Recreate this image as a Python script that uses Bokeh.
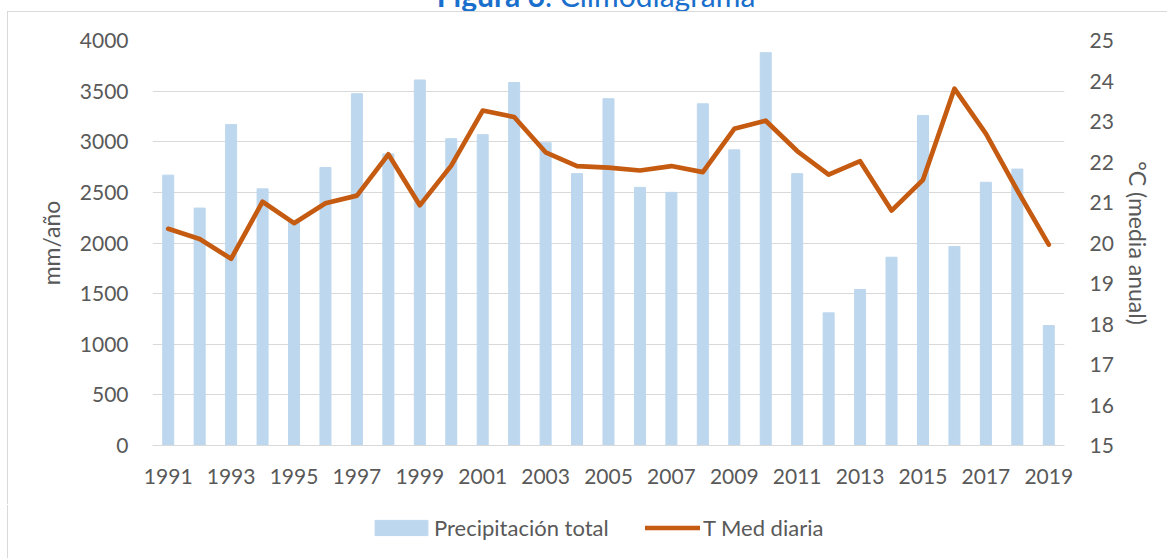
from bokeh.plotting import figure
from bokeh.models import (Range1d, LinearAxis, FixedTicker, Legend, LegendItem, Div)
from bokeh.layouts import column
from bokeh.embed import file_html
from bokeh.resources import INLINE

years = list(range(1991, 2020))
precip = [2670, 2345, 3170, 2535, 2225, 2745, 3475, 2880, 3610, 3030,
          3070, 3585, 2990, 2685, 3425, 2550, 2500, 3375, 2920, 3880,
          2685, 1310, 1540, 1860, 3260, 1965, 2600, 2730, 1185]
tmed = [20.35, 20.10, 19.61, 21.02, 20.49, 20.98, 21.17, 22.19, 20.93, 21.91,
        23.27, 23.11, 22.24, 21.90, 21.86, 21.79, 21.90, 21.75, 22.82, 23.02,
        22.27, 21.69, 22.02, 20.80, 21.56, 23.81, 22.70, 21.30, 19.96]
x_ticks = list(range(1991, 2020, 2))
left_ticks = list(range(0, 4001, 500))
right_ticks = list(range(15, 26))
series_names = ["Precipitación total", "T Med diaria"]

FONT = "Lato"
GREY = "#595959"
BAR_COLOR = "#bdd7ee"
LINE_COLOR = "#c55a11"
TICK_SIZE = "21px"

p = figure(width=1160, height=493, output_backend="svg", toolbar_location=None,
           x_range=Range1d(1990.5, 2019.5), y_range=Range1d(0, 4000),
           min_border_left=144, min_border_right=104, min_border_top=28, min_border_bottom=60,
           margin=(0, 0, 0, 8))
p.styles = {"box-shadow": "-1px -1px 0 0 #d9d9d9"}
p.outline_line_color = None
p.background_fill_color = "white"
p.border_fill_color = "white"

p.extra_y_ranges = {"temp": Range1d(15, 25)}

p.vbar(x=years, top=precip, width=0.35, color=BAR_COLOR)
p.line(x=years, y=tmed, y_range_name="temp", line_color=LINE_COLOR, line_width=4.7,
       line_join="round", line_cap="round")

p.xgrid.visible = False
p.ygrid.grid_line_color = "#d9d9d9"
p.ygrid.grid_line_width = 1
p.ygrid.ticker = FixedTicker(ticks=left_ticks)

xa = p.xaxis[0]
xa.ticker = FixedTicker(ticks=x_ticks)
xa.axis_line_color = "#d9d9d9"
xa.major_tick_line_color = None
xa.minor_tick_line_color = None
xa.major_label_text_font = FONT
xa.major_label_text_font_size = TICK_SIZE
xa.major_label_text_color = GREY
xa.major_label_standoff = 17

ya = p.yaxis[0]
ya.ticker = FixedTicker(ticks=left_ticks)
ya.axis_line_color = None
ya.major_tick_line_color = None
ya.minor_tick_line_color = None
ya.major_label_text_font = FONT
ya.major_label_text_font_size = TICK_SIZE
ya.major_label_text_color = GREY
ya.major_label_standoff = 18
ya.axis_label = "mm/año"
ya.axis_label_text_font = FONT
ya.axis_label_text_font_size = "23px"
ya.axis_label_text_font_style = "normal"
ya.axis_label_text_color = GREY
ya.axis_label_standoff = 12

ra = LinearAxis(y_range_name="temp", ticker=FixedTicker(ticks=right_ticks))
ra.axis_line_color = None
ra.major_tick_line_color = None
ra.minor_tick_line_color = None
ra.major_label_text_font = FONT
ra.major_label_text_font_size = TICK_SIZE
ra.major_label_text_color = GREY
ra.major_label_standoff = 19
ra.axis_label = "°C (media anual)"
ra.axis_label_text_font = FONT
ra.axis_label_text_font_size = "23px"
ra.axis_label_text_font_style = "normal"
ra.axis_label_text_color = GREY
ra.axis_label_standoff = 7
p.add_layout(ra, "right")

# legend strip (separate small figure; its frame is aligned with the main frame)
lf = figure(width=1160, height=53, output_backend="svg", toolbar_location=None,
            x_axis_type=None, y_axis_type=None, x_range=Range1d(0, 1), y_range=Range1d(0, 1),
            min_border=0, margin=(0, 0, 0, 8))
lf.styles = {"box-shadow": "-1px 0 0 0 #d9d9d9"}
lf.outline_line_color = None
lf.grid.visible = False
lf.background_fill_color = "white"
lf.border_fill_color = "white"
# same series styles; hidden renderers, only their legend glyphs show
lbar = lf.vbar(x=years, top=precip, width=0.35, color=BAR_COLOR)
lline = lf.line(x=years, y=tmed, line_color=LINE_COLOR, line_width=4.7,
                line_join="round", line_cap="round")
lbar.visible = False
lline.visible = False

common = dict(orientation="horizontal", glyph_height=19, padding=0, margin=0,
              border_line_color=None, background_fill_alpha=0, label_text_font=FONT,
              label_text_font_size="22px", label_text_color=GREY,
              inactive_fill_alpha=0)
leg1 = Legend(items=[LegendItem(label=series_names[0], renderers=[lbar])],
              location=(216, 17), glyph_width=66, label_standoff=0, **common)
leg2 = Legend(items=[LegendItem(label=series_names[1], renderers=[lline])],
              location=(493, 17), glyph_width=55, label_standoff=3, **common)
lf.add_layout(leg1)
lf.add_layout(leg2)

title = Div(text='<span style="font-weight:bold">Figura 6</span>. Climodiagrama',
            width=1170, height=32, margin=(-20, 0, 0, 0),
            styles={"font-family": FONT, "font-size": "30px", "line-height": "30px",
                    "color": "#1a6fcc", "text-align": "center", "padding-left": "22px",
                    "box-sizing": "border-box"})
title.stylesheets = [":host { text-align: center; } div { width: 100%; text-align: center; }"]

layout = column(title, p, lf)

open("out.html", "w").write(file_html(layout, INLINE))
